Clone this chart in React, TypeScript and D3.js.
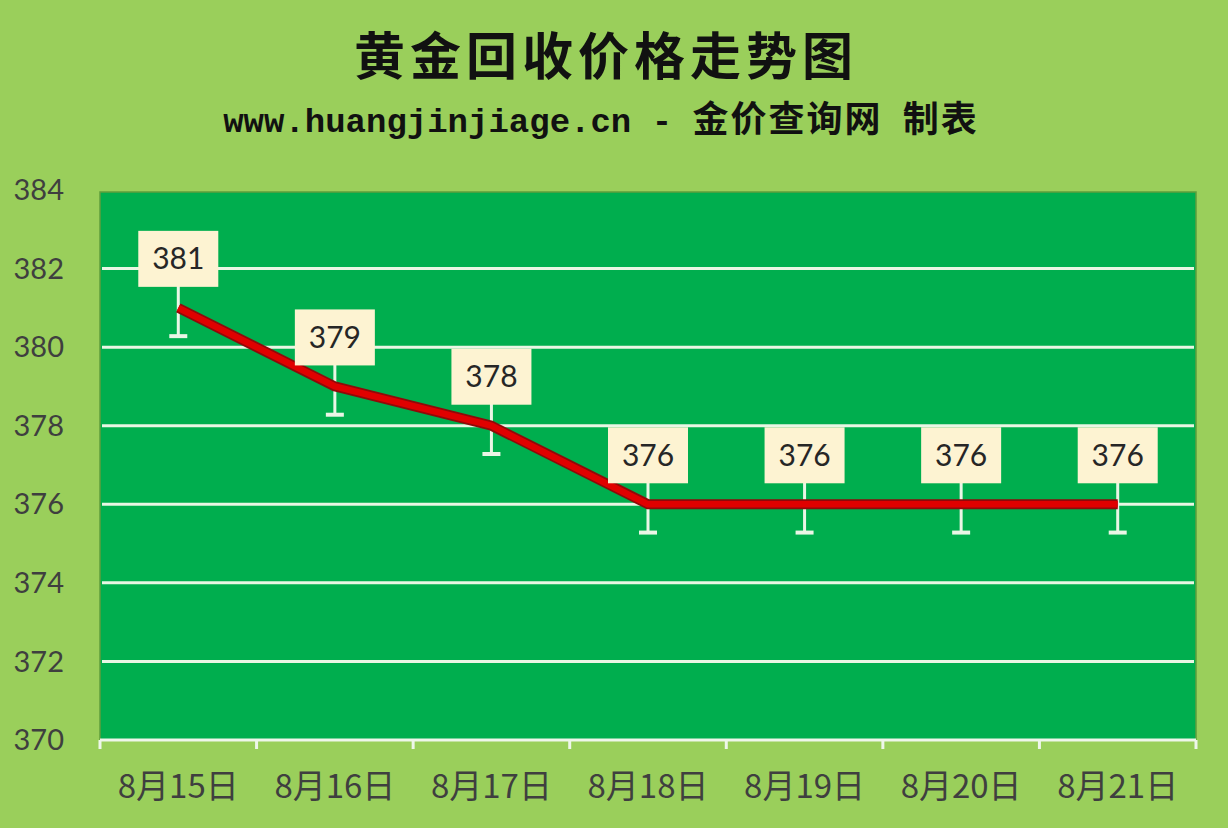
import React, { useEffect, useRef } from 'react';
import * as d3 from 'd3';

const dates = ['8月15日', '8月16日', '8月17日', '8月18日', '8月19日', '8月20日', '8月21日'];
const prices = [381, 379, 378, 376, 376, 376, 376];
const yTicks = [370, 372, 374, 376, 378, 380, 382, 384];
const errorBar = 0.72;

const W = 1228;
const H = 828;

const App: React.FC = () => {
  const svgRef = useRef<SVGSVGElement>(null);

  useEffect(() => {
    document.body.style.margin = '0';
    if (!svgRef.current) return;

    const svg = d3.select(svgRef.current);
    svg.selectAll('*').remove();

    const margin = { top: 190, right: 32, bottom: 88, left: 100 };
    const width = W - margin.left - margin.right;
    const height = H - margin.top - margin.bottom;

    svg.append('rect').attr('width', W).attr('height', H).attr('fill', '#9acf5b');

    // Title
    svg.append('text')
      .attr('x', 606).attr('y', 75)
      .attr('text-anchor', 'middle')
      .attr('fill', '#111')
      .style('font-family', '"Noto Sans CJK SC", sans-serif')
      .style('font-size', '51px')
      .style('font-weight', '700')
      .style('letter-spacing', '5px')
      .text('黄金回收价格走势图');

    const sub = svg.append('text')
      .attr('x', 601).attr('y', 132)
      .attr('text-anchor', 'middle')
      .attr('fill', '#111')
      .style('font-weight', '700');
    sub.append('tspan')
      .style('font-family', '"Liberation Mono", monospace')
      .style('font-size', '34px')
      .text('www.huangjinjiage.cn - ');
    sub.append('tspan')
      .style('font-family', '"Noto Sans CJK SC", sans-serif')
      .style('font-size', '36px')
      .style('letter-spacing', '2px')
      .text('金价查询网\u00a0\u00a0制表');

    const g = svg.append('g').attr('transform', `translate(${margin.left},${margin.top})`);

    const x = d3.scaleBand().domain(dates).range([0, width]).padding(0);
    const y = d3.scaleLinear().domain([370, 384]).range([height, 0]);
    const cx = (d: string) => (x(d) || 0) + x.bandwidth() / 2;

    // Plot area
    g.append('rect')
      .attr('x', 0).attr('y', 2)
      .attr('width', width).attr('height', height - 2)
      .attr('fill', '#00ae4e')
      .attr('stroke', '#5f9e3c')
      .attr('stroke-width', 1.5);

    // Grid lines
    g.selectAll('.grid')
      .data(yTicks.filter(t => t !== 370 && t !== 384))
      .enter()
      .append('line')
      .attr('x1', 2).attr('x2', width - 2)
      .attr('y1', d => y(d)).attr('y2', d => y(d))
      .attr('stroke', '#e9f6e4')
      .attr('stroke-width', 3);

    // Y axis labels
    g.selectAll('.ylab')
      .data(yTicks)
      .enter()
      .append('text')
      .attr('x', -36)
      .attr('y', d => y(d))
      .attr('dy', '0.35em')
      .attr('text-anchor', 'end')
      .attr('fill', '#3f3f3f')
      .style('font-family', 'Lato, "Open Sans", sans-serif')
      .style('font-size', '29px')
      .text(d => d);

    // X axis
    const xAxis = g.append('g').attr('transform', `translate(0,${height})`);
    xAxis.append('line')
      .attr('x1', 0).attr('x2', width)
      .attr('stroke', '#eef6ea').attr('stroke-width', 3);
    xAxis.selectAll('.tick')
      .data(d3.range(dates.length + 1))
      .enter()
      .append('line')
      .attr('x1', i => i * x.bandwidth()).attr('x2', i => i * x.bandwidth())
      .attr('y1', 0).attr('y2', 9)
      .attr('stroke', '#eef6ea').attr('stroke-width', 3);
    xAxis.selectAll('.xlab')
      .data(dates)
      .enter()
      .append('text')
      .attr('x', d => cx(d))
      .attr('y', 58)
      .attr('text-anchor', 'middle')
      .attr('fill', '#3f3f3f')
      .style('font-family', '"Noto Sans CJK SC", sans-serif')
      .style('font-size', '33px')
      .text(d => d);

    const pts = dates.map((d, i) => ({ d, v: prices[i] }));

    // Error bars
    const eb = g.selectAll('.eb').data(pts).enter().append('g');
    eb.append('line')
      .attr('x1', p => cx(p.d)).attr('x2', p => cx(p.d))
      .attr('y1', p => y(p.v + errorBar)).attr('y2', p => y(p.v - errorBar))
      .attr('stroke', '#eaf6e6').attr('stroke-width', 3);
    eb.append('line')
      .attr('x1', p => cx(p.d) - 9).attr('x2', p => cx(p.d) + 9)
      .attr('y1', p => y(p.v - errorBar)).attr('y2', p => y(p.v - errorBar))
      .attr('stroke', '#eaf6e6').attr('stroke-width', 4);

    // Line
    const line = d3.line<{ d: string; v: number }>()
      .x(p => cx(p.d))
      .y(p => y(p.v));
    g.append('path')
      .datum(pts)
      .attr('d', line)
      .attr('fill', 'none')
      .attr('stroke', '#8e0a0a')
      .attr('stroke-width', 10)
      .attr('stroke-linejoin', 'round');
    g.append('path')
      .datum(pts)
      .attr('d', line)
      .attr('fill', 'none')
      .attr('stroke', '#e00000')
      .attr('stroke-width', 6.5)
      .attr('stroke-linejoin', 'round');

    // Data labels
    const lab = g.selectAll('.lab').data(pts).enter().append('g')
      .attr('transform', p => `translate(${cx(p.d)},${y(p.v) - 49})`);
    lab.append('rect')
      .attr('x', -40).attr('y', -28)
      .attr('width', 80).attr('height', 56)
      .attr('fill', '#fdf3d2');
    lab.append('text')
      .attr('text-anchor', 'middle')
      .attr('dy', '0.35em')
      .attr('fill', '#262626')
      .style('font-family', 'Lato, "Open Sans", sans-serif')
      .style('font-size', '30px')
      .text(p => p.v);
  }, []);

  return <svg ref={svgRef} width={W} height={H} style={{ display: 'block' }} />;
};

export default App;
